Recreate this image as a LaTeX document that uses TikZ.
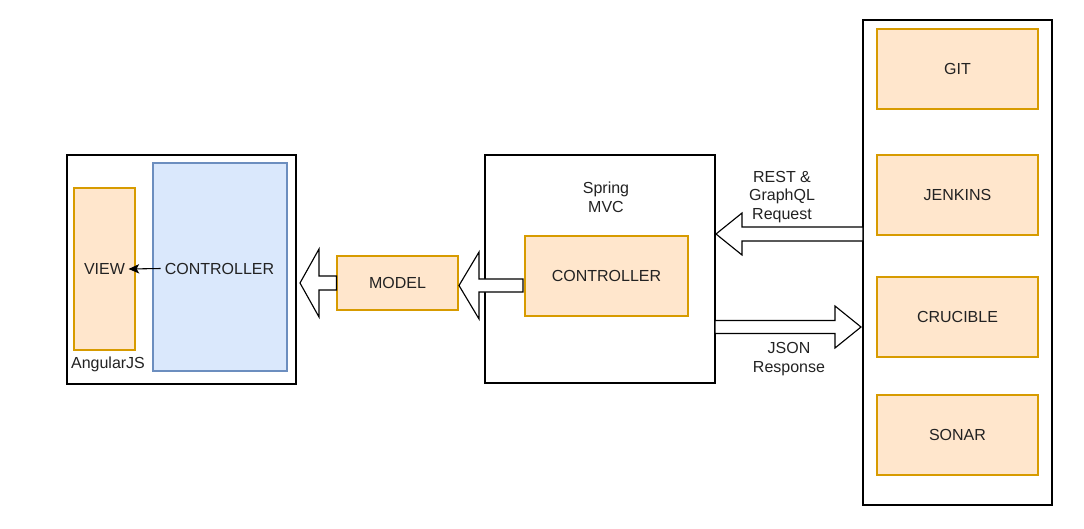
\documentclass[tikz,border=0pt]{standalone}
\usepackage{fontspec}
\setmainfont{Liberation Sans}
\usetikzlibrary{arrows.meta,calc,fit}
\definecolor{ofill}{HTML}{FFE6CC}
\definecolor{odraw}{HTML}{D79B00}
\definecolor{bfill}{HTML}{DAE8FC}
\definecolor{bdraw}{HTML}{6C8EBF}
\definecolor{txt}{HTML}{222222}
\tikzset{
  frame/.style={draw=black, line width=0.85pt, inner sep=0pt, fill=white},
  obox/.style={draw=odraw, fill=ofill, line width=0.85pt, inner sep=0pt, text=txt},
  bbox/.style={draw=bdraw, fill=bfill, line width=0.85pt, inner sep=0pt, text=txt},
  lbl/.style={text=txt, align=center, inner sep=0pt, font=\fontsize{12}{14}\selectfont},
  blk/.style={draw=black, fill=white, line width=0.85pt, line join=miter},
  every node/.append style={font=\fontsize{12}{14}\selectfont}
}
% left-pointing block arrow: #1 tail, #2 tip, #3 shaft half, #4 head half, #5 head length
\newcommand\blkleft[5]{\draw[blk] let \p1=(#1), \p2=(#2) in
  (\x1,\y2+#3) -- (\x2+#5,\y2+#3) -- (\x2+#5,\y2+#4) -- (\x2,\y2) -- (\x2+#5,\y2-#4) -- (\x2+#5,\y2-#3) -- (\x1,\y2-#3) -- cycle;}
\newcommand\blkright[5]{\draw[blk] let \p1=(#1), \p2=(#2) in
  (\x1,\y2+#3) -- (\x2-#5,\y2+#3) -- (\x2-#5,\y2+#4) -- (\x2,\y2) -- (\x2-#5,\y2-#4) -- (\x2-#5,\y2-#3) -- (\x1,\y2-#3) -- cycle;}
\begin{document}
\begin{tikzpicture}[x=0.75pt,y=-0.75pt]
\useasboundingbox (0,0) rectangle (1084,528);
% AngularJS frame
\node[frame, fit={(67,155) (296,384)}] (ang) {};
\node[obox, fit={(74,188) (135,350)}] (view) {};
\node[bbox, fit={(153,163) (287,371)}] (actrl) {};
\node[lbl, inner sep=2.5pt] (viewtxt) at (104.5,269) {VIEW};
\node[lbl, inner sep=3pt] (actrltxt) at (219.5,268.5) {CONTROLLER};
\node[lbl] (angl) at (108,364) {AngularJS};
\draw[-{Stealth[length=8pt,width=7pt,inset=2pt]}, line width=0.8pt] (actrltxt.west) -- (viewtxt.east);
% Model
\node[obox, fit={(337,256) (458,310)}] (model) {};
\node[lbl] at (model.center) {MODEL};
% Spring frame
\node[frame, fit={(485,155) (715,383)}] (spring) {};
\node[lbl] (springl) at (606,197) {Spring\\MVC};
\node[obox, fit={(525,236) (688,316)}] (sctrl) {};
\node[lbl] at (sctrl.center) {CONTROLLER};
% Tools frame
\node[frame, fit={(863,20) (1052,505)}] (tools) {};
\node[obox, fit={(877,29) (1038,109)}] (git) {};
\node[lbl] at (git.center) {GIT};
\node[obox, fit={(877,155) (1038,235)}] (jenkins) {};
\node[lbl] at (jenkins.center) {JENKINS};
\node[obox, fit={(877,277) (1038,357)}] (crucible) {};
\node[lbl] at (crucible.center) {CRUCIBLE};
\node[obox, fit={(877,395) (1038,475)}] (sonar) {};
\node[lbl] at (sonar.center) {SONAR};
% block arrows
\coordinate (a1tip) at (300,283);
\blkleft{model.west}{a1tip}{5.25pt}{25.5pt}{14.25pt}
\coordinate (a2tail) at (523,285.5);
\coordinate (a2tip) at (459,285.5);
\blkleft{a2tail}{a2tip}{4.9pt}{25.1pt}{15pt}
\coordinate (a3tail) at (863,234);
\coordinate (a3tip) at (716,234);
\blkleft{a3tail}{a3tip}{5.25pt}{15.75pt}{19.5pt}
\coordinate (a4tail) at (715,327);
\coordinate (a4tip) at (861,327);
\blkright{a4tail}{a4tip}{4.9pt}{15.75pt}{19.5pt}
\node[lbl] (reql) at (782,197) {REST \&\\GraphQL\\Request};
\node[lbl] (resl) at (789,359) {JSON\\Response};
\end{tikzpicture}
\end{document}
